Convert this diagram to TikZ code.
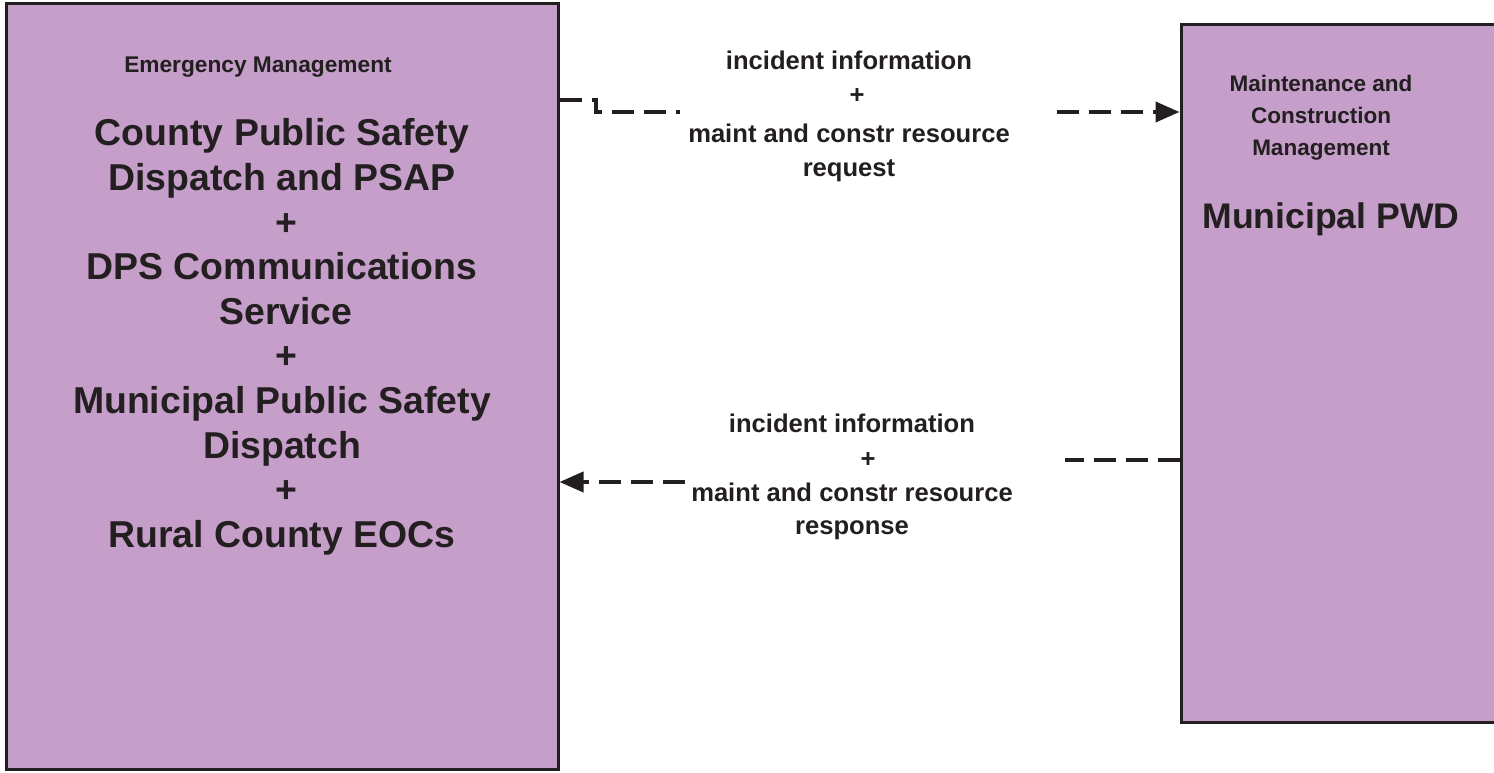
\documentclass[tikz,border=0pt]{standalone}
\usepackage{fontspec}
\setmainfont{Liberation Sans}
\usetikzlibrary{arrows.meta}
\definecolor{boxfill}{RGB}{197,158,201}
\definecolor{ink}{RGB}{35,31,32}
\begin{document}
\begin{tikzpicture}[x=1pt,y=-1pt,
  box/.style={draw=ink,line width=3pt,fill=boxfill,inner sep=0pt},
  dashline/.style={draw=ink,line width=4pt,dash pattern=on 22pt off 10pt},
  flow/.style={dashline,-{Triangle[length=24pt,width=20pt]}},
  txt/.style={text=ink,align=center,inner sep=0pt},
  lbl/.style={txt,font=\bfseries\fontsize{25.6}{34}\selectfont}]
\useasboundingbox (0,0) rectangle (1494,773);
% boxes
\node[box,minimum width=552pt,minimum height=765pt] (L) at (282,386.5) {};
\node[box,minimum width=315pt,minimum height=697pt] (R) at (1338.5,373.5) {};
% texts in boxes
\node[txt,anchor=base,font=\bfseries\fontsize{22.7}{26}\selectfont] (Lsub) at (258,73) {Emergency Management};
\node[txt,font=\bfseries\fontsize{37.4}{44.6}\selectfont] (Lmain) at (282,337)
  {County Public Safety\\Dispatch and PSAP\\\hspace*{8pt}+\\DPS Communications\\\hspace*{8pt}Service\\\hspace*{8pt}+\\Municipal Public Safety\\Dispatch\\\hspace*{8pt}+\\Rural County EOCs};
\node[txt,font=\bfseries\fontsize{22.5}{32}\selectfont] (Rsub) at (1321,118)
  {Maintenance and\\Construction\\Management};
\node[txt,anchor=base,font=\bfseries\fontsize{35.6}{40}\selectfont] (Rmain) at (1331,228) {Municipal PWD};
% connector coordinates
\coordinate (ta) at (596,100);
\coordinate (tb) at (596,112);
\coordinate (tc) at (680,112);
\coordinate (td) at (1057,112);
\coordinate (ba) at (1065,460);
\coordinate (bb) at (685,482);
% top flow
\draw[dashline] (L.east |- ta) -- (ta) -- (tb) -- (tc);
\draw[flow] (td) -- (R.west |- td);
% bottom flow
\draw[dashline] (R.west |- ba) -- (ba);
\draw[flow] (bb) -- (L.east |- bb);
% labels
\node[lbl] (lab1) at (849,116)
  {incident information\\\hspace*{16pt}+\\[5pt]maint and constr resource\\request};
\node[lbl,font=\bfseries\fontsize{25.6}{33}\selectfont] (lab2) at (852,477)
  {incident information\\[1.5pt]\hspace*{32pt}+\\[1.5pt]maint and constr resource\\response};
\end{tikzpicture}
\end{document}
